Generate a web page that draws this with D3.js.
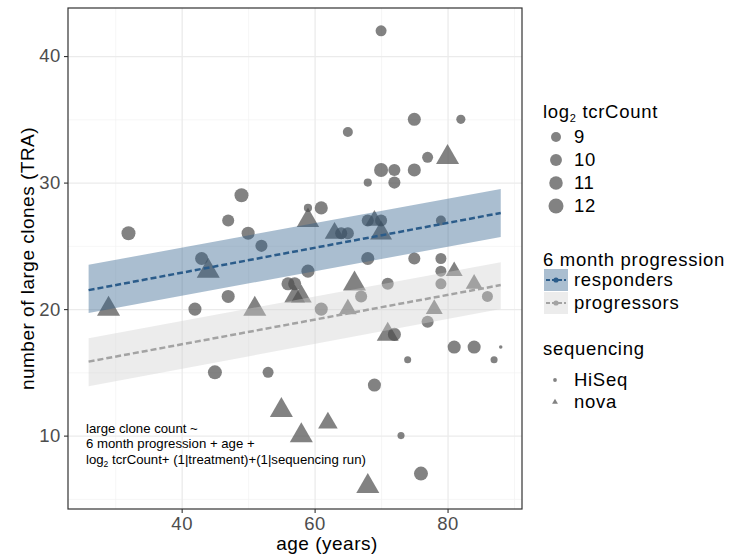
<!DOCTYPE html>
<html>
<head>
<meta charset="utf-8">
<script src="https://cdn.jsdelivr.net/npm/d3@7"></script>
<style>
body{margin:0;background:#fff;}
svg{font-family:"Liberation Sans",Arial,Helvetica,sans-serif;}
</style>
</head>
<body>
<div class="chart"></div>
<script>
// HiSeq samples: age, number of large clones, log2 tcrCount
const hiseqAge   = [32,49,47,50,52,43,59,61,64,65,68,70,68,70,72,68,72,59,56,57,61,67,71,77,75,79,75,79,79,79,86,77,70,75,82,65,72,81,84,88,87,74,69,73,76,53,45,42,47];
const hiseqCount = [26,29,27,26,25,24,28,28,26,26,27,27,24,31,31,30,30,23,22,22,20,21,22,32,31,27,24,24,23,22,21,19,42,35,35,34,18,17,17,17,16,16,14,10,7,15,15,20,21];
const hiseqLog2  = [11.3,11.3,10.1,10.7,10.1,10.7,8.2,10.7,10.1,10.1,10.1,10.1,10.7,11.3,10.1,8.2,10.1,10.7,10.7,10.7,10.7,10.1,10.1,9.5,10.7,9.0,10.1,9.5,9.5,9.5,9.5,10.1,9.5,10.7,8.6,9.0,10.7,10.7,10.7,6.9,7.8,7.8,10.7,7.8,11.3,9.5,11.3,10.7,10.7];
// nova samples
const novaAge   = [44,59,63,69,70,57,58,51,66,65,80,81,84,78,71,62,68,55,58,29];
const novaCount = [23,27,26,27,26,21,21,20,22,20,32,23,22,20,18,11,6,12,10,20];
const novaLog2  = [12,11.7,10.5,10,11.5,11,11,12,12,9.8,12,9.5,9.5,9.5,11.5,10.5,12,12,12,12];

// model fit (fixed effects) with confidence band
const fitAge = [26, 88];
const respFit = [21.5, 27.6];
const respLo  = [19.7, 25.7];
const respHi  = [23.5, 29.5];
const progFit = [15.85, 21.9];
const progLo  = [13.9, 20.0];
const progHi  = [17.7, 23.7];

const xTicks = [40, 60, 80];
const xMinor = [30, 50, 70, 90];
const yTicks = [10, 20, 30, 40];
const yMinor = [5, 15, 25, 35];
const sizeLegend = [9, 10, 11, 12];
const groupNames = ['responders', 'progressors'];
const seqNames = ['HiSeq', 'nova'];

const respColor = '#2b5c8a';
const progColor = '#a3a3a3';
const pointColor = '#4d4d4d';

const svg_width = 730, svg_height = 557;
const margin = {top:8, right:208, bottom:48, left:68};
const chart_width = svg_width - margin.left - margin.right;
const chart_height = svg_height - margin.top - margin.bottom;

const svg = d3.select('.chart').append('svg')
    .attr('width', svg_width).attr('height', svg_height);
const g = svg.append('g').attr('transform', `translate(${margin.left},${margin.top})`);

const xScale = d3.scaleLinear().domain([22.9, 91.2]).range([0, chart_width]);
const yScale = d3.scaleLinear().domain([4.2, 43.8]).range([chart_height, 0]);
// point area grows linearly with log2 tcrCount
const areaScale = d3.scaleLinear().domain([9, 12]).range([25, 56.25]);
const radius = v => Math.sqrt(Math.max(areaScale(v), 1));

// grid
function grid(axis, cls){
    const gg = g.append('g').attr('class', cls).call(axis);
    gg.select('.domain').remove();
    return gg;
}
grid(d3.axisBottom(xScale).tickValues(xMinor).tickSize(-chart_height).tickFormat(''), 'gx')
    .attr('transform', `translate(0,${chart_height})`)
    .selectAll('line').attr('stroke', '#f2f2f2').attr('stroke-width', 0.7);
grid(d3.axisLeft(yScale).tickValues(yMinor).tickSize(-chart_width).tickFormat(''), 'gy')
    .selectAll('line').attr('stroke', '#f2f2f2').attr('stroke-width', 0.7);
grid(d3.axisBottom(xScale).tickValues(xTicks).tickSize(-chart_height).tickFormat(''), 'gx')
    .attr('transform', `translate(0,${chart_height})`)
    .selectAll('line').attr('stroke', '#ebebeb').attr('stroke-width', 1.3);
grid(d3.axisLeft(yScale).tickValues(yTicks).tickSize(-chart_width).tickFormat(''), 'gy')
    .selectAll('line').attr('stroke', '#ebebeb').attr('stroke-width', 1.3);

// points
const hiseq = hiseqAge.map((a, i) => ({age:a, count:hiseqCount[i], lc:hiseqLog2[i]}));
const nova = novaAge.map((a, i) => ({age:a, count:novaCount[i], lc:novaLog2[i]}));

g.append('g').selectAll('circle').data(hiseq).enter()
    .append('circle')
    .attr('cx', d => xScale(d.age)).attr('cy', d => yScale(d.count))
    .attr('r', d => radius(d.lc))
    .style('fill', pointColor).style('fill-opacity', 0.7);

g.append('g').selectAll('path').data(nova).enter()
    .append('path')
    .attr('transform', d => `translate(${xScale(d.age)},${yScale(d.count)})`)
    .attr('d', d => d3.symbol(d3.symbolTriangle, 1.3 * Math.PI * radius(d.lc) ** 2)())
    .style('fill', pointColor).style('fill-opacity', 0.7);

// ribbons + fitted lines
const bands = [
    {name:'responders', color:respColor, fill:respColor, op:0.4, fit:respFit, lo:respLo, hi:respHi},
    {name:'progressors', color:progColor, fill:'#cfcfcf', op:0.4, fit:progFit, lo:progLo, hi:progHi}
];
const area = d3.area().x(d => xScale(d.age)).y0(d => yScale(d.lo)).y1(d => yScale(d.hi));
const line = d3.line().x(d => xScale(d.age)).y(d => yScale(d.fit));
bands.forEach(b => {
    const vals = fitAge.map((a, i) => ({age:a, fit:b.fit[i], lo:b.lo[i], hi:b.hi[i]}));
    g.append('path').attr('d', area(vals)).style('fill', b.fill).style('fill-opacity', b.op);
    b.vals = vals;
});
bands.forEach(b => {
    g.append('path').attr('d', line(b.vals))
        .style('fill', 'none').style('stroke', b.color)
        .style('stroke-width', 2.5).style('stroke-dasharray', '6,3');
});

// panel border
g.append('rect').attr('width', chart_width).attr('height', chart_height)
    .style('fill', 'none').style('stroke', '#333').style('stroke-width', 1.2);

// axes
const xAxis = d3.axisBottom(xScale).tickValues(xTicks).tickSizeInner(4).tickSizeOuter(0).tickPadding(4);
const xAxisDraw = g.append('g').attr('transform', `translate(0,${chart_height})`).call(xAxis);
const yAxis = d3.axisLeft(yScale).tickValues(yTicks).tickSizeInner(4).tickSizeOuter(0).tickPadding(3);
const yAxisDraw = g.append('g').call(yAxis);
[xAxisDraw, yAxisDraw].forEach(a => {
    a.select('.domain').remove();
    a.selectAll('line').attr('stroke', '#333').attr('stroke-width', 1.1);
    a.selectAll('text').style('font-size', '18.5px').style('fill', '#4d4d4d')
        .style('letter-spacing', '0.6px')
        .style('font-family', '"Liberation Sans",Arial,sans-serif');
});

svg.append('text').attr('x', 327).attr('y', 550)
    .attr('text-anchor', 'middle').style('font-size', '19px').style('letter-spacing', '0.5px')
    .text('age (years)');
svg.append('text').attr('transform', `translate(34,${margin.top + chart_height / 2}) rotate(-90)`)
    .attr('text-anchor', 'middle').style('font-size', '19px').style('letter-spacing', '0.5px')
    .text('number of large clones (TRA)');

// model formula
const note = svg.append('text').style('font-size', '13.2px').attr('x', 86);
note.append('tspan').attr('x', 86).attr('y', 433).text('large clone count ~');
note.append('tspan').attr('x', 86).attr('y', 448).text('6 month progression + age +');
note.append('tspan').attr('x', 86).attr('y', 463.5).text('log');
note.append('tspan').attr('dy', 3).style('font-size', '8.5px').text('2');
note.append('tspan').attr('dy', -3).text(' tcrCount+ (1|treatment)+(1|sequencing run)');

// legends
const lx = 543;
const legend = svg.append('g').style('font-size', '18.5px').style('letter-spacing', '0.7px');
const t1 = legend.append('text').attr('x', lx).attr('y', 118);
t1.append('tspan').text('log');
t1.append('tspan').attr('dy', 4).style('font-size', '11px').text('2');
t1.append('tspan').attr('dy', -4).text(' tcrCount');
sizeLegend.forEach((v, i) => {
    const cy = 137 + i * 23;
    legend.append('circle').attr('cx', 556).attr('cy', cy).attr('r', radius(v))
        .style('fill', pointColor).style('fill-opacity', 0.7);
    legend.append('text').attr('x', 574).attr('y', cy).attr('dy', '0.35em').text(v);
});

legend.append('text').attr('x', lx).attr('y', 266).text('6 month progression');
bands.forEach((b, i) => {
    const y0 = 269 + i * 23;
    legend.append('rect').attr('x', 544).attr('y', y0).attr('width', 24).attr('height', 22)
        .style('fill', b.fill).style('fill-opacity', b.op);
    legend.append('line').attr('x1', 546).attr('x2', 566).attr('y1', y0 + 11).attr('y2', y0 + 11)
        .style('stroke', b.color).style('stroke-width', 2).style('stroke-dasharray', '4,2');
    legend.append('circle').attr('cx', 556).attr('cy', y0 + 11).attr('r', 2.6).style('fill', b.color);
    legend.append('text').attr('x', 574).attr('y', y0 + 11).attr('dy', '0.35em').text(groupNames[i]);
});

legend.append('text').attr('x', lx).attr('y', 355).text('sequencing');
seqNames.forEach((s, i) => {
    const cy = 380 + i * 22;
    if (i === 0) {
        legend.append('circle').attr('cx', 555).attr('cy', cy).attr('r', 1.9)
            .style('fill', pointColor).style('fill-opacity', 0.7);
    } else {
        legend.append('path').attr('transform', `translate(555,${cy})`)
            .attr('d', d3.symbol(d3.symbolTriangle, 1.3 * Math.PI * 1.9 * 1.9)())
            .style('fill', pointColor).style('fill-opacity', 0.7);
    }
    legend.append('text').attr('x', 574).attr('y', cy).attr('dy', '0.35em').text(s);
});
</script>
</body>
</html>
